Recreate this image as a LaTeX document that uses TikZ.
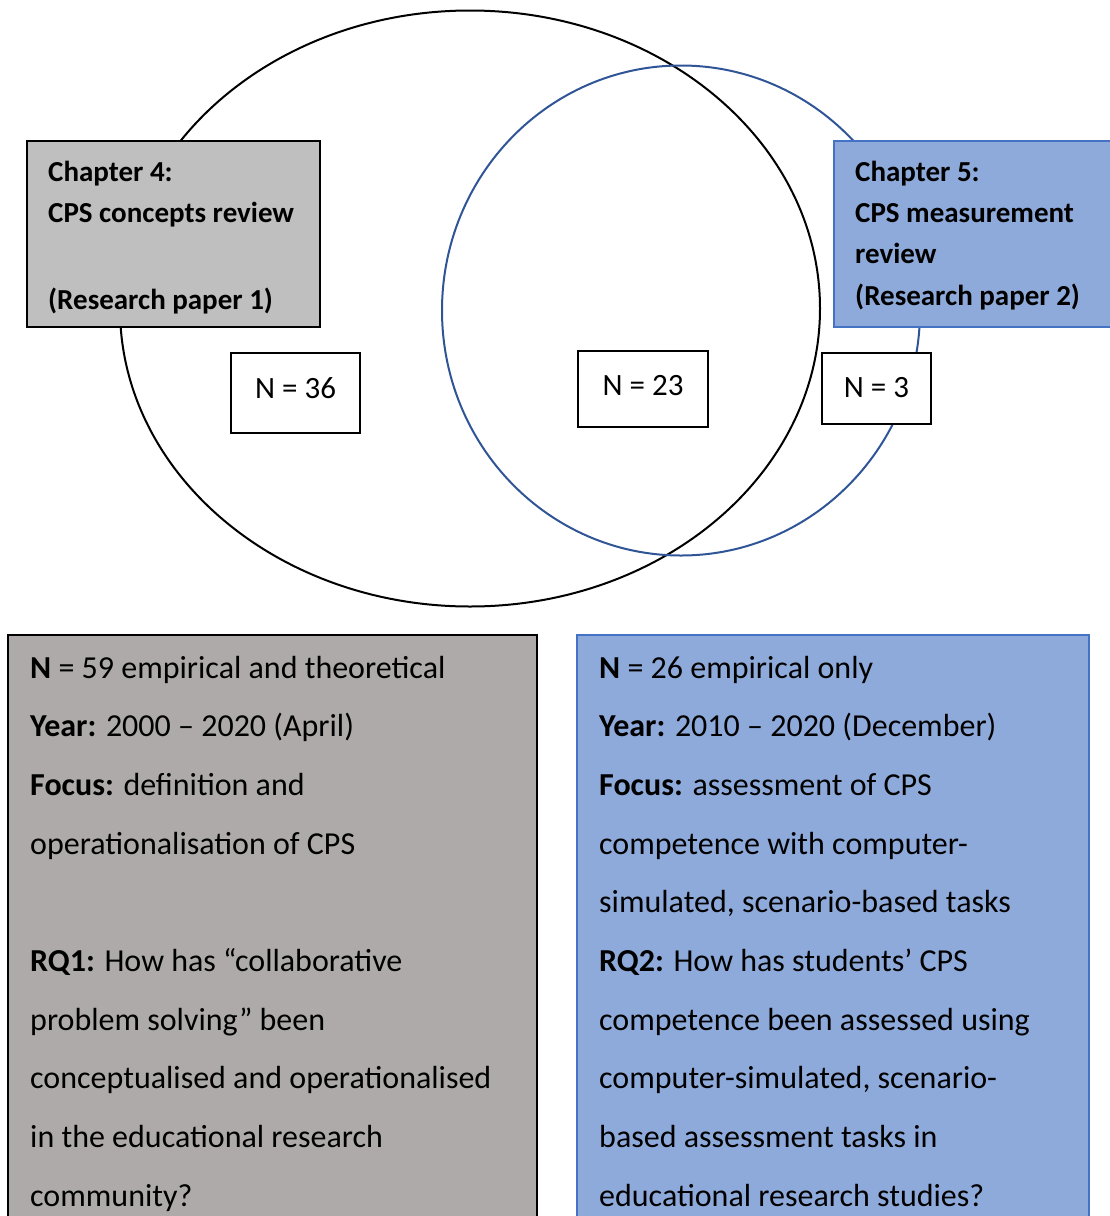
\documentclass[tikz,border=0pt]{standalone}
\usepackage{fontspec}
\setmainfont{Carlito}
\definecolor{chapgray}{HTML}{BFBFBF}
\definecolor{infogray}{HTML}{AEAAAA}
\definecolor{paleblue}{HTML}{8EAADB}
\definecolor{edgeblue}{HTML}{4472C4}
\definecolor{ringblue}{HTML}{2F5597}

\tikzset{
    countbox/.style={draw, line width=2pt, fill=white, inner sep=0pt, font=\fontsize{31}{33}\selectfont},
    chaptxt/.style={anchor=base west, inner sep=0pt, font=\fontsize{29}{31}\selectfont\bfseries},
    infotxt/.style={anchor=base west, inner sep=0pt, font=\fontsize{32}{34}\selectfont}
}

\begin{document}
\begin{tikzpicture}[x=1pt,y=-1pt]
    \useasboundingbox (0,0) rectangle (1109,1216);

    % the two sets
    \draw[line width=2pt] (470,308.5) ellipse [x radius=350, y radius=298];
    \draw[ringblue, line width=2pt] (681,310.5) ellipse [x radius=239, y radius=245];

    % chapter 4
    \draw[line width=2pt, fill=chapgray] (27,141) rectangle (320,327);
    \node[chaptxt] (c4a) at (48,181) {Chapter 4:};
    \node[chaptxt] (c4b) at (48,222) {CPS concepts review};
    \node[chaptxt] (c4c) at (48,309) {(Research paper 1)};

    % chapter 5
    \draw[edgeblue, line width=2pt, fill=paleblue] (834,141) rectangle (1120,327);
    \node[chaptxt] (c5a) at (855,181) {Chapter 5:};
    \node[chaptxt] (c5b) at (855,222) {CPS measurement};
    \node[chaptxt] (c5c) at (855,263) {review};
    \node[chaptxt] (c5d) at (855,305) {(Research paper 2)};

    % counts
    \node[countbox, minimum width=129pt, minimum height=80pt] (n36) at (295.5,393) {\raisebox{9pt}{N = 36}};
    \node[countbox, minimum width=130pt, minimum height=76pt] (n23) at (643,389) {\raisebox{8pt}{N = 23}};
    \node[countbox, minimum width=109pt, minimum height=71pt] (n3) at (876.5,388.5) {\raisebox{3pt}{N = 3}};

    % summary boxes
    \draw[line width=2pt, fill=infogray] (8,635) rectangle (537,1230);
    \draw[edgeblue, line width=2pt, fill=paleblue] (577,635) rectangle (1089,1230);

    \foreach \t [count=\i] in {{\textbf{N} = 59 empirical and theoretical},
        {\textbf{Year:} 2000 -- 2020 (April)},
        {\textbf{Focus:} definition and},
        {operationalisation of CPS},
        {},
        {\textbf{RQ1:} How has “collaborative},
        {problem solving” been},
        {conceptualised and operationalised},
        {in the educational research},
        {community?}}
        \node[infotxt] (l\i) at (30,{678+58.7*(\i-1)}) {\t};

    \foreach \t [count=\i] in {{\textbf{N} = 26 empirical only},
        {\textbf{Year:} 2010 -- 2020 (December)},
        {\textbf{Focus:} assessment of CPS},
        {competence with computer-},
        {simulated, scenario-based tasks},
        {\textbf{RQ2:} How has students’ CPS},
        {competence been assessed using},
        {computer-simulated, scenario-},
        {based assessment tasks in},
        {educational research studies?}}
        \node[infotxt] (r\i) at (599,{678+58.7*(\i-1)}) {\t};
\end{tikzpicture}
\end{document}
